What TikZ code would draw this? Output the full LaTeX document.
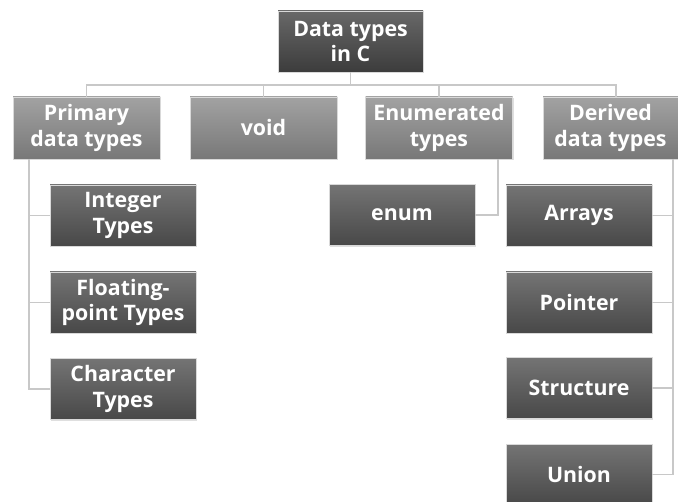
\documentclass[tikz,border=0pt]{standalone}
\usepackage{fontspec}
\setmainfont{Open Sans}
\usetikzlibrary{shadows}
\definecolor{rootTop}{HTML}{686868}
\definecolor{rootBot}{HTML}{3C3C3C}
\definecolor{lvTop}{HTML}{A2A2A2}
\definecolor{lvBot}{HTML}{787878}
\definecolor{chTop}{HTML}{747474}
\definecolor{chBot}{HTML}{484848}
\definecolor{connC}{HTML}{C8C8C8}
\tikzset{
  box/.style={rectangle, draw=white!85!black, line width=0.4pt, text=white,
    font=\fontsize{16}{19}\selectfont\bfseries, align=center, inner sep=0pt,
    drop shadow={opacity=0.25, shadow xshift=0.8pt, shadow yshift=-0.8pt}},
  rootbox/.style={box, top color=rootTop, bottom color=rootBot,
    minimum width=108.75pt, minimum height=45.75pt},
  lvbox/.style={box, top color=lvTop, bottom color=lvBot,
    minimum width=110.25pt, minimum height=46.5pt},
  chbox/.style={box, top color=chTop, bottom color=chBot,
    minimum width=109.5pt, minimum height=45.75pt},
  conn/.style={draw=connC, line width=1pt}
}
\begin{document}
\begin{tikzpicture}[x=0.75pt,y=-0.75pt]
\useasboundingbox (0,0) rectangle (678,502);
\clip (0,0) rectangle (678,502);
\fill[white] (0,0) rectangle (678,502);
% nodes
\node[rootbox] (root) at (350.5,41.5) {Data types\\in C};
\node[lvbox] (prim) at (86.5,128) {Primary\\data types};
\node[lvbox] (void) at (263.5,128) {void};
\node[lvbox] (enu) at (439,128) {Enumerated\\types};
\node[lvbox, minimum width=101.25pt] (der) at (610.5,128) {Derived\\data types};
\node[chbox] (int) at (123,215.5) {Integer\\Types};
\node[chbox] (flt) at (123,302.5) {Floating-\\point Types};
\node[chbox] (chr) at (123,389) {Character\\Types};
\node[chbox] (enm) at (402,215) {enum};
\node[chbox] (arr) at (579,215.5) {Arrays};
\node[chbox] (ptr) at (579,302.5) {Pointer};
\node[chbox] (str) at (579,388) {Structure};
\node[chbox] (uni) at (579,474.5) {Union};
% connector helper points
\coordinate (bar) at (0,85);
\coordinate (dtop) at (616,97);
\coordinate (lt) at (29,159);
\coordinate (et) at (498,159);
\coordinate (rt) at (673,159);
% connectors
\draw[conn] (root.south) -- (root.south |- bar);
\draw[conn] (prim.north) -- (prim.north |- bar) -- (dtop |- bar) -- (dtop);
\draw[conn] (void.north) -- (void.north |- bar);
\draw[conn] (enu.north) -- (enu.north |- bar);
\draw[conn] (lt) -- (lt |- chr.west) -- (chr.west);
\draw[conn] (lt |- int.west) -- (int.west);
\draw[conn] (lt |- flt.west) -- (flt.west);
\draw[conn] (et) -- (et |- enm.east) -- (enm.east);
\draw[conn] (rt) -- (rt |- uni.east) -- (uni.east);
\draw[conn] (rt |- arr.east) -- (arr.east);
\draw[conn] (rt |- ptr.east) -- (ptr.east);
\draw[conn] (rt |- str.east) -- (str.east);
\end{tikzpicture}
\end{document}
